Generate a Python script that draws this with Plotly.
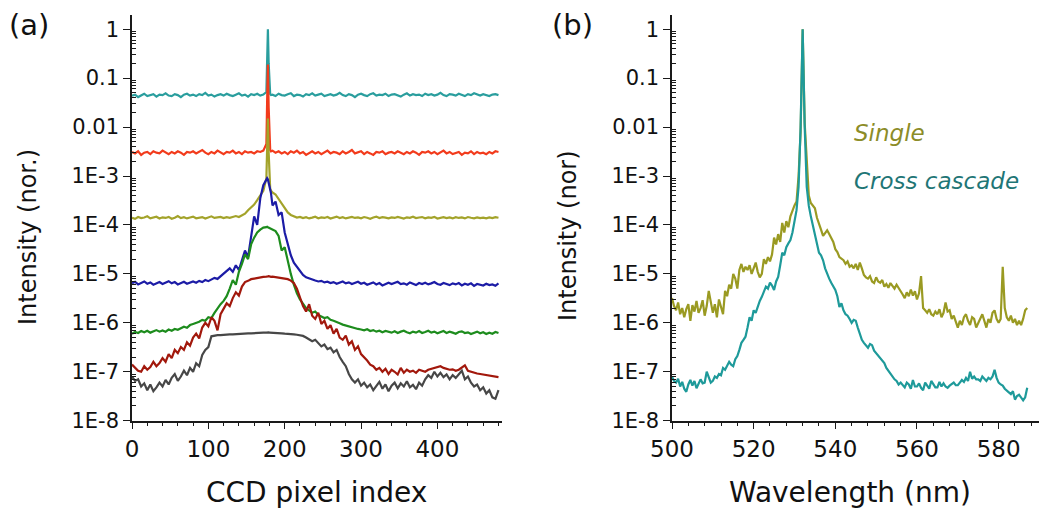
import plotly.graph_objects as go

# ---------------- Panel (a): CCD pixel index ----------------
x_pixel = [0, 4, 8, 12, 16, 20, 24, 28, 32, 36,
           40, 44, 48, 52, 56, 60, 64, 68, 72, 76,
           80, 84, 88, 92, 96, 100, 104, 108, 112, 116,
           120, 124, 128, 132, 136, 140, 144, 148, 152, 156,
           160, 164, 168, 172,
           176, 177, 178, 179, 180, 181, 182,
           184, 188, 192, 196, 200, 204, 208, 212, 216, 220,
           224, 228, 232, 236, 240, 244, 248, 252, 256, 260,
           264, 268, 272, 276, 280, 284, 288, 292, 296, 300,
           304, 308, 312, 316, 320, 324, 328, 332, 336, 340,
           344, 348, 352, 356, 360, 364, 368, 372, 376, 380,
           384, 388, 392, 396, 400, 404, 408, 412, 416, 420,
           424, 428, 432, 436, 440, 444, 448, 452, 456, 460,
           464, 468, 472, 476, 480]

a_teal = [.044, .046, .041, .045, .048, .043, .045, .047, .042, .046,
          .045, .049, .044, .043, .047, .045, .041, .046, .048, .044,
          .046, .043, .047, .045, .050, .044, .046, .042, .045, .047,
          .044, .048, .045, .043, .046, .049, .044, .046, .042, .047,
          .045, .048, .044, .046,
          .052, .30, 1.0, .20, .055, .047, .045,
          .046, .043, .048, .045, .044, .047, .049, .043, .046, .045,
          .042, .047, .045, .049, .044, .046, .048, .043, .045, .047,
          .044, .046, .050, .045, .043, .047, .045, .041, .046, .048,
          .045, .043, .047, .049, .044, .046, .045, .048, .043, .046,
          .047, .045, .042, .046, .049, .044, .047, .045, .046, .043,
          .048, .045, .047, .044, .046, .050, .045, .043, .047, .046,
          .044, .048, .046, .043, .047, .045, .049, .046, .044, .047,
          .045, .043, .046, .047, .045]

a_red = [.0031, .0029, .0032, .0027, .0030, .0031, .0028, .0032, .0030, .0029,
         .0033, .0030, .0028, .0031, .0029, .0032, .0030, .0027, .0031, .0030,
         .0032, .0029, .0031, .0034, .0030, .0028, .0031, .0029, .0033, .0030,
         .0028, .0031, .0030, .0033, .0029, .0031, .0028, .0032, .0030, .0031,
         .0029, .0032, .0031, .0033,
         .0045, .035, .19, .025, .005, .0034, .0032,
         .0033, .0030, .0032, .0029, .0031, .0028, .0032, .0030, .0033, .0029,
         .0031, .0027, .0030, .0032, .0029, .0031, .0028, .0030, .0033, .0029,
         .0031, .0030, .0028, .0032, .0029, .0031, .0034, .0029, .0030, .0032,
         .0028, .0031, .0029, .0027, .0031, .0030, .0032, .0028, .0030, .0031,
         .0029, .0032, .0030, .0028, .0031, .0029, .0032, .0030, .0027, .0031,
         .0030, .0032, .0029, .0031, .0028, .0030, .0033, .0029, .0031, .0028,
         .0030, .0031, .0027, .0030, .0029, .0032, .0028, .0031, .0029, .0030,
         .0028, .0031, .0029, .0032, .0031]

a_olive = [1.40e-4, 1.33e-4, 1.45e-4, 1.38e-4, 1.42e-4, 1.50e-4, 1.36e-4, 1.41e-4, 1.47e-4, 1.35e-4,
           1.43e-4, 1.39e-4, 1.46e-4, 1.34e-4, 1.40e-4, 1.52e-4, 1.38e-4, 1.44e-4, 1.36e-4, 1.42e-4,
           1.48e-4, 1.37e-4, 1.41e-4, 1.45e-4, 1.35e-4, 1.43e-4, 1.50e-4, 1.39e-4, 1.42e-4, 1.46e-4,
           1.38e-4, 1.44e-4, 1.40e-4, 1.47e-4, 1.52e-4, 1.45e-4, 1.58e-4, 1.70e-4, 2.0e-4, 2.3e-4,
           2.6e-4, 3.2e-4, 4.0e-4, 5.0e-4,
           9e-4, 4e-3, 1.5e-2, 3e-3, 8e-4, 5.5e-4, 5e-4,
           4.6e-4, 4.2e-4, 3.4e-4, 2.8e-4, 2.2e-4, 1.8e-4, 1.6e-4, 1.5e-4, 1.42e-4, 1.46e-4,
           1.38e-4, 1.44e-4, 1.36e-4, 1.41e-4, 1.47e-4, 1.37e-4, 1.43e-4, 1.39e-4, 1.45e-4, 1.35e-4,
           1.42e-4, 1.48e-4, 1.38e-4, 1.44e-4, 1.36e-4, 1.40e-4, 1.46e-4, 1.39e-4, 1.43e-4, 1.37e-4,
           1.45e-4, 1.40e-4, 1.34e-4, 1.42e-4, 1.48e-4, 1.38e-4, 1.44e-4, 1.41e-4, 1.36e-4, 1.43e-4,
           1.39e-4, 1.46e-4, 1.41e-4, 1.35e-4, 1.43e-4, 1.40e-4, 1.47e-4, 1.38e-4, 1.42e-4, 1.45e-4,
           1.37e-4, 1.43e-4, 1.40e-4, 1.46e-4, 1.35e-4, 1.41e-4, 1.44e-4, 1.38e-4, 1.42e-4, 1.36e-4,
           1.44e-4, 1.39e-4, 1.42e-4, 1.36e-4, 1.45e-4, 1.40e-4, 1.37e-4, 1.43e-4, 1.38e-4, 1.41e-4,
           1.36e-4, 1.42e-4, 1.38e-4, 1.44e-4, 1.40e-4]

a_blue = [6.4e-6, 6.9e-6, 6.1e-6, 6.6e-6, 7.0e-6, 6.3e-6, 6.7e-6, 6.0e-6, 6.5e-6, 6.8e-6,
          6.2e-6, 6.6e-6, 7.1e-6, 6.4e-6, 6.8e-6, 6.1e-6, 6.5e-6, 6.9e-6, 6.3e-6, 6.7e-6,
          7.0e-6, 6.6e-6, 7.2e-6, 6.8e-6, 7.5e-6, 7.1e-6, 7.8e-6, 8.3e-6, 7.9e-6, 9.0e-6,
          1.0e-5, 1.15e-5, 1.3e-5, 1.1e-5, 1.5e-5, 1.2e-5, 1.8e-5, 3.0e-5, 2.2e-5, 6.0e-5,
          1.5e-4, 1.0e-4, 3.5e-4, 6.5e-4,
          8.5e-4, 9.0e-4, 8.5e-4, 7.0e-4, 6.0e-4, 5.0e-4, 4.5e-4,
          2.5e-4, 3.0e-4, 1.6e-4, 1.8e-4, 7e-5, 4e-5, 2.4e-5, 1.7e-5, 1.4e-5, 1.1e-5,
          9.5e-6, 8.5e-6, 8.0e-6, 7.6e-6, 7.3e-6, 7.0e-6, 7.2e-6, 6.7e-6, 6.9e-6, 6.5e-6,
          6.8e-6, 6.3e-6, 6.6e-6, 7.0e-6, 6.4e-6, 6.7e-6, 6.2e-6, 6.5e-6, 6.9e-6, 6.3e-6,
          6.6e-6, 6.0e-6, 6.4e-6, 6.7e-6, 6.1e-6, 6.5e-6, 5.8e-6, 6.3e-6, 6.6e-6, 6.2e-6,
          6.5e-6, 6.9e-6, 6.2e-6, 6.4e-6, 6.0e-6, 6.7e-6, 6.3e-6, 5.9e-6, 6.5e-6, 6.2e-6,
          6.6e-6, 6.1e-6, 6.4e-6, 6.8e-6, 6.2e-6, 6.0e-6, 6.5e-6, 6.3e-6, 5.9e-6, 6.4e-6,
          6.1e-6, 6.5e-6, 5.8e-6, 6.3e-6, 6.0e-6, 6.4e-6, 5.7e-6, 6.2e-6, 6.0e-6, 5.8e-6,
          6.3e-6, 5.9e-6, 6.1e-6, 5.7e-6, 6.4e-6]

a_green = [6.0e-7, 6.5e-7, 6.2e-7, 6.8e-7, 6.4e-7, 6.9e-7, 6.3e-7, 6.7e-7, 7.1e-7, 6.6e-7,
           7.0e-7, 6.6e-7, 7.3e-7, 6.9e-7, 7.5e-7, 7.2e-7, 7.8e-7, 8.3e-7, 7.9e-7, 9.0e-7,
           9.5e-7, 1.0e-6, 1.05e-6, 1.15e-6, 1.1e-6, 1.3e-6, 1.25e-6, 1.6e-6, 2.0e-6, 2.4e-6,
           2.8e-6, 3.5e-6, 5.0e-6, 7.5e-6, 6.0e-6, 1.1e-5, 1.6e-5, 2.5e-5, 2.0e-5, 4.0e-5,
           5.5e-5, 7.0e-5, 8.0e-5, 8.8e-5,
           9.0e-5, 9.2e-5, 9.0e-5, 8.8e-5, 8.9e-5, 8.6e-5, 8.4e-5,
           8.0e-5, 7.5e-5, 6.0e-5, 3.0e-5, 3.5e-5, 1.8e-5, 1.0e-5, 6.0e-6, 4.0e-6, 3.0e-6,
           2.4e-6, 2.0e-6, 1.8e-6, 1.6e-6, 1.7e-6, 1.45e-6, 1.35e-6, 1.25e-6, 1.3e-6, 1.15e-6,
           1.1e-6, 1.05e-6, 9.8e-7, 9.2e-7, 8.8e-7, 8.4e-7, 8.0e-7, 7.8e-7, 7.5e-7, 7.3e-7,
           7.0e-7, 7.4e-7, 6.8e-7, 7.1e-7, 6.6e-7, 6.9e-7, 6.4e-7, 6.8e-7, 6.5e-7, 6.3e-7,
           6.7e-7, 6.2e-7, 6.6e-7, 6.9e-7, 6.4e-7, 6.1e-7, 6.6e-7, 6.3e-7, 6.8e-7, 6.2e-7,
           6.5e-7, 6.9e-7, 6.3e-7, 6.6e-7, 6.1e-7, 6.4e-7, 6.8e-7, 6.2e-7, 6.6e-7, 6.3e-7,
           6.0e-7, 6.5e-7, 6.7e-7, 6.2e-7, 6.4e-7, 5.9e-7, 6.3e-7, 6.6e-7, 6.1e-7, 6.4e-7,
           5.9e-7, 6.3e-7, 6.0e-7, 6.5e-7, 6.2e-7]

a_darkred = [1.4e-7, 1.2e-7, 1.05e-7, 1.0e-7, 1.3e-7, 1.1e-7, 1.25e-7, 1.6e-7, 1.3e-7, 1.5e-7,
             1.9e-7, 1.6e-7, 2.3e-7, 1.9e-7, 2.8e-7, 2.4e-7, 3.2e-7, 2.8e-7, 4.0e-7, 3.4e-7,
             5.0e-7, 6.0e-7, 4.8e-7, 8.0e-7, 1.0e-6, 8.5e-7, 1.3e-6, 1.1e-6, 7.0e-7, 1.5e-6,
             1.9e-6, 2.5e-6, 2.2e-6, 3.2e-6, 4.2e-6, 3.6e-6, 5.5e-6, 6.8e-6, 7.2e-6, 7.8e-6,
             8.0e-6, 8.3e-6, 8.5e-6, 8.7e-6,
             8.8e-6, 9.0e-6, 8.9e-6, 9.0e-6, 8.8e-6, 8.9e-6, 8.7e-6,
             8.8e-6, 8.6e-6, 8.5e-6, 8.2e-6, 8.0e-6, 7.8e-6, 7.3e-6, 6.5e-6, 5.0e-6, 3.2e-6,
             2.2e-6, 1.7e-6, 2.4e-6, 1.4e-6, 1.2e-6, 1.6e-6, 9.5e-7, 1.1e-6, 7.5e-7, 9.0e-7,
             6.0e-7, 7.5e-7, 5.0e-7, 4.5e-7, 5.5e-7, 3.6e-7, 4.2e-7, 2.8e-7, 3.3e-7, 2.3e-7,
             2.0e-7, 1.7e-7, 1.4e-7, 1.3e-7, 1.1e-7, 1.2e-7, 1.0e-7, 1.15e-7, 0.9e-7, 1.1e-7,
             1.0e-7, 0.88e-7, 1.2e-7, 0.95e-7, 1.1e-7, 1.0e-7, 1.05e-7, 0.95e-7, 1.1e-7, 1.05e-7,
             1.0e-7, 1.1e-7, 1.15e-7, 1.2e-7, 1.25e-7, 1.3e-7, 1.2e-7, 1.15e-7, 1.1e-7, 1.12e-7,
             1.05e-7, 1.1e-7, 1.2e-7, 1.35e-7, 1.05e-7, 1.0e-7, 0.95e-7, 0.92e-7, 0.9e-7, 0.88e-7,
             0.86e-7, 0.84e-7, 0.82e-7, 0.8e-7, 0.78e-7]

a_gray = [8.0e-8, 6.5e-8, 7.0e-8, 5.0e-8, 5.8e-8, 4.2e-8, 5.5e-8, 4.0e-8, 4.8e-8, 6.0e-8,
          5.0e-8, 6.8e-8, 5.5e-8, 7.5e-8, 9.0e-8, 6.5e-8, 8.0e-8, 1.05e-7, 8.5e-8, 1.2e-7,
          1.0e-7, 1.5e-7, 1.3e-7, 2.2e-7, 2.8e-7, 3.2e-7, 5.3e-7, 5.5e-7, 5.6e-7, 5.6e-7,
          5.7e-7, 5.7e-7, 5.8e-7, 5.8e-7, 5.9e-7, 5.9e-7, 6.0e-7, 6.0e-7, 6.1e-7, 6.1e-7,
          6.2e-7, 6.2e-7, 6.3e-7, 6.3e-7,
          6.3e-7, 6.4e-7, 6.4e-7, 6.4e-7, 6.3e-7, 6.3e-7, 6.3e-7,
          6.3e-7, 6.2e-7, 6.2e-7, 6.1e-7, 6.0e-7, 6.0e-7, 5.9e-7, 5.8e-7, 5.7e-7, 5.6e-7,
          5.4e-7, 5.0e-7, 4.6e-7, 4.2e-7, 4.5e-7, 3.8e-7, 3.3e-7, 3.6e-7, 2.9e-7, 3.1e-7,
          2.5e-7, 2.8e-7, 2.0e-7, 1.6e-7, 1.3e-7, 9.0e-8, 7.0e-8, 6.0e-8, 7.0e-8, 5.2e-8,
          6.0e-8, 4.8e-8, 5.5e-8, 4.2e-8, 5.0e-8, 6.2e-8, 4.5e-8, 5.5e-8, 4.0e-8, 5.2e-8,
          6.0e-8, 4.6e-8, 5.8e-8, 5.0e-8, 6.4e-8, 4.8e-8, 5.4e-8, 4.4e-8, 6.0e-8, 5.2e-8,
          7.0e-8, 8.5e-8, 7.5e-8, 1.0e-7, 8.0e-8, 9.5e-8, 7.8e-8, 8.8e-8, 7.0e-8, 8.5e-8,
          7.5e-8, 9.0e-8, 1.05e-7, 7.0e-8, 8.0e-8, 6.0e-8, 5.0e-8, 5.5e-8, 4.2e-8, 4.8e-8,
          3.6e-8, 4.2e-8, 3.0e-8, 2.8e-8, 4.2e-8]

# ---------------- Panel (b): wavelength ----------------
x_wavelength = [500, 500.5, 501, 501.5, 502, 502.5, 503, 503.5, 504, 504.5,
                505, 505.5, 506, 506.5, 507, 507.5, 508, 508.5, 509, 509.5,
                510, 510.5, 511, 511.5, 512, 512.5, 513, 513.5, 514, 514.5,
                515, 515.5, 516, 516.5, 517, 517.5, 518, 518.5, 519, 519.5,
                520, 520.5, 521, 521.5, 522, 522.5, 523, 523.5, 524, 524.5,
                525, 525.5, 526, 526.5, 527, 527.5, 528, 528.5, 529, 529.5,
                530, 530.5, 531, 531.5, 532, 532.5, 533, 533.5, 534, 534.5,
                535, 535.5, 536, 536.5, 537, 537.5, 538, 538.5, 539, 539.5,
                540, 540.5, 541, 541.5, 542, 542.5, 543, 543.5, 544, 544.5,
                545, 545.5, 546, 546.5, 547, 547.5, 548, 548.5, 549, 549.5,
                550, 550.5, 551, 551.5, 552, 552.5, 553, 553.5, 554, 554.5,
                555, 555.5, 556, 556.5, 557, 557.5, 558, 558.5, 559, 559.5,
                560, 560.5, 561, 561.5, 562, 562.5, 563, 563.5, 564, 564.5,
                565, 565.5, 566, 566.5, 567, 567.5, 568, 568.5, 569, 569.5,
                570, 570.5, 571, 571.5, 572, 572.5, 573, 573.5, 574, 574.5,
                575, 575.5, 576, 576.5, 577, 577.5, 578, 578.5, 579, 579.5,
                580, 580.5, 581, 581.5, 582, 582.5, 583, 583.5, 584, 584.5,
                585, 585.5, 586, 586.5, 587]

b_single = [3.2e-6, 2.2e-6, 1.8e-6, 2.6e-6, 1.5e-6, 2.0e-6, 1.3e-6, 1.9e-6, 2.4e-6, 1.1e-6,
            2.3e-6, 1.7e-6, 2.8e-6, 1.6e-6, 2.0e-6, 2.9e-6, 1.4e-6, 2.2e-6, 4.5e-6, 2.6e-6,
            1.6e-6, 2.4e-6, 1.3e-6, 3.0e-6, 2.0e-6, 1.5e-6, 4.5e-6, 3.5e-6, 6.0e-6, 5.0e-6,
            1.0e-5, 8.0e-6, 5.0e-6, 1.2e-5, 1.6e-5, 1.1e-5, 1.4e-5, 1.2e-5, 1.5e-5, 1.0e-5,
            1.3e-5, 1.7e-5, 1.1e-5, 8.5e-6, 1.0e-5, 2.0e-5, 1.6e-5, 2.2e-5, 1.8e-5, 2.5e-5,
            5.5e-5, 4.0e-5, 6.5e-5, 4.5e-5, 1.1e-4, 7.0e-5, 1.2e-4, 9.0e-5, 1.5e-4, 2.0e-4,
            2.5e-4, 3.0e-4, 1.0e-3, 8.0e-3, 1.0, 1.2e-2, 1.5e-3, 4.0e-4, 2.8e-4, 2.5e-4,
            2.2e-4, 1.4e-4, 1.0e-4, 8.0e-5, 6.0e-5, 7.0e-5, 7.8e-5, 6.5e-5, 5.5e-5, 4.5e-5,
            3.2e-5, 2.8e-5, 2.2e-5, 2.0e-5, 1.9e-5, 1.6e-5, 1.8e-5, 1.4e-5, 1.5e-5, 1.3e-5,
            1.6e-5, 1.2e-5, 1.7e-5, 1.3e-5, 9.5e-6, 8.5e-6, 8.0e-6, 9.0e-6, 7.0e-6, 6.5e-6,
            8.5e-6, 7.0e-6, 6.6e-6, 7.5e-6, 5.5e-6, 6.2e-6, 5.2e-6, 6.5e-6, 5.6e-6, 5.0e-6,
            6.0e-6, 5.2e-6, 4.6e-6, 3.8e-6, 3.2e-6, 4.2e-6, 3.5e-6, 4.8e-6, 3.6e-6, 4.4e-6,
            3.0e-6, 4.0e-6, 9.0e-6, 2.0e-6, 1.8e-6, 1.6e-6, 1.9e-6, 1.5e-6, 1.4e-6, 1.7e-6,
            1.5e-6, 1.9e-6, 1.3e-6, 1.6e-6, 2.6e-6, 1.7e-6, 1.8e-6, 1.2e-6, 1.4e-6, 1.0e-6,
            0.8e-6, 1.1e-6, 0.9e-6, 1.3e-6, 1.5e-6, 1.1e-6, 0.9e-6, 1.3e-6, 1.2e-6, 0.8e-6,
            1.0e-6, 1.3e-6, 1.5e-6, 1.1e-6, 0.8e-6, 1.2e-6, 1.0e-6, 1.6e-6, 1.8e-6, 1.2e-6,
            1.0e-6, 1.2e-6, 1.4e-5, 2.0e-6, 1.3e-6, 1.1e-6, 1.4e-6, 1.0e-6, 1.2e-6, 0.9e-6,
            1.1e-6, 0.9e-6, 1.2e-6, 1.8e-6, 2.0e-6]

b_cross = [7.9e-8, 6.5e-8, 6.0e-8, 7.2e-8, 5.0e-8, 6.2e-8, 4.5e-8, 3.9e-8, 5.5e-8, 6.8e-8,
           5.2e-8, 6.5e-8, 4.6e-8, 5.5e-8, 7.0e-8, 5.8e-8, 6.0e-8, 1.0e-7, 7.5e-8, 6.0e-8,
           6.5e-8, 8.0e-8, 7.5e-8, 9.0e-8, 8.5e-8, 1.2e-7, 1.1e-7, 1.3e-7, 1.6e-7, 1.4e-7,
           1.3e-7, 1.8e-7, 2.1e-7, 2.8e-7, 3.9e-7, 4.5e-7, 5.2e-7, 8.0e-7, 1.3e-6, 1.1e-6,
           1.8e-6, 1.6e-6, 2.2e-6, 2.8e-6, 3.4e-6, 4.5e-6, 5.5e-6, 5.0e-6, 6.6e-6, 5.8e-6,
           4.7e-6, 7.0e-6, 8.7e-6, 1.5e-5, 2.7e-5, 2.4e-5, 3.5e-5, 4.2e-5, 4.9e-5, 7.0e-5,
           1.1e-4, 2.0e-4, 6.0e-4, 1.0e-2, 1.0, 1.0e-2, 6.0e-4, 2.5e-4, 1.5e-4, 1.0e-4,
           6.9e-5, 4.0e-5, 2.7e-5, 2.4e-5, 1.9e-5, 1.3e-5, 1.0e-5, 8.0e-6, 6.6e-6, 5.5e-6,
           4.7e-6, 3.5e-6, 2.1e-6, 2.5e-6, 1.8e-6, 1.5e-6, 1.4e-6, 1.2e-6, 1.0e-6, 1.15e-6,
           1.1e-6, 8.0e-7, 6.0e-7, 4.5e-7, 3.9e-7, 3.4e-7, 3.1e-7, 3.7e-7, 3.5e-7, 2.7e-7,
           2.4e-7, 2.2e-7, 2.0e-7, 1.7e-7, 1.5e-7, 1.2e-7, 1.05e-7, 9.0e-8, 8.0e-8, 7.0e-8,
           6.5e-8, 5.5e-8, 6.0e-8, 5.2e-8, 4.8e-8, 6.0e-8, 5.5e-8, 4.5e-8, 6.8e-8, 5.0e-8,
           5.0e-8, 5.8e-8, 4.7e-8, 4.2e-8, 6.0e-8, 5.2e-8, 4.5e-8, 6.5e-8, 5.6e-8, 4.8e-8,
           4.8e-8, 6.2e-8, 5.0e-8, 5.8e-8, 5.0e-8, 4.7e-8, 5.2e-8, 5.5e-8, 6.0e-8, 5.3e-8,
           5.3e-8, 6.0e-8, 6.8e-8, 6.2e-8, 7.5e-8, 6.5e-8, 1.0e-7, 7.2e-8, 8.0e-8, 7.0e-8,
           7.0e-8, 6.5e-8, 8.0e-8, 7.2e-8, 6.5e-8, 7.5e-8, 7.0e-8, 8.0e-8, 1.1e-7, 7.5e-8,
           6.0e-8, 5.5e-8, 5.2e-8, 4.5e-8, 4.2e-8, 3.8e-8, 3.5e-8, 4.0e-8, 2.7e-8, 3.2e-8,
           3.4e-8, 3.0e-8, 2.6e-8, 3.0e-8, 4.7e-8]

y_tick_values = [1e-8, 1e-7, 1e-6, 1e-5, 1e-4, 1e-3, 0.01, 0.1, 1]
y_tick_labels = ["1E-8", "1E-7", "1E-6", "1E-5", "1E-4", "1E-3", "0.01", "0.1", "1"]
x_a_ticks = [0, 100, 200, 300, 400]
x_b_ticks = [500, 520, 540, 560, 580]

for s in (a_teal, a_red, a_olive, a_blue, a_green, a_darkred, a_gray):
    assert len(s) == len(x_pixel), len(s)
for s in (b_single, b_cross):
    assert len(s) == len(x_wavelength), len(s)

# ---- geometry (the page body has an 8 px margin, so the figure is offset) ----
OFF = 8
W, H = 1050 - OFF, 515 - OFF


def fx(px):
    return (px - OFF) / W


def fy(py):
    return 1 - (py - OFF) / H


FONT = "DejaVu Sans"
AX = "#1a1a1a"
LW = 2.2

fig = go.Figure()
series_a = [(a_teal, "#2a9e9e"), (a_red, "#f23b1c"), (a_olive, "#a3a32a"),
            (a_blue, "#1c1ca6"), (a_green, "#1d8c1d"), (a_darkred, "#a2180c"),
            (a_gray, "#474747")]
for vals, col in series_a:
    fig.add_trace(go.Scatter(x=x_pixel, y=vals, mode="lines", xaxis="x", yaxis="y",
                             line=dict(color=col, width=LW), hoverinfo="skip"))
fig.add_trace(go.Scatter(x=x_wavelength, y=b_single, mode="lines", xaxis="x2", yaxis="y2",
                         line=dict(color="#9a9a22", width=LW), hoverinfo="skip"))
fig.add_trace(go.Scatter(x=x_wavelength, y=b_cross, mode="lines", xaxis="x2", yaxis="y2",
                         line=dict(color="#1e9a9a", width=LW), hoverinfo="skip"))

Y_DOM = [fy(420.7), fy(15)]
XA_DOM = [fx(132), fx(132 + 485 * 0.7635)]
XB_DOM = [fx(672), fx(672 + 90 * 4.083)]

minor_log = [m * 10.0 ** e for e in range(-8, 1) for m in range(2, 10)]
minor_xa = [v for v in range(20, 485, 20) if v % 100]
minor_xb = [v for v in range(504, 591, 4) if (v - 500) % 20]


def xaxis(domain, rng, ticks, anchor):
    return dict(domain=domain, range=rng, anchor=anchor, automargin=False,
                tickmode="array", tickvals=ticks,
                ticks="outside", ticklen=7, tickwidth=1.3, tickcolor=AX,
                showline=True, linecolor=AX, linewidth=1.5, showgrid=False, zeroline=False,
                tickfont=dict(family=FONT, size=23, color="#111"))


def xminor(domain, rng, vals, over, anchor):
    return dict(domain=domain, range=rng, overlaying=over, anchor=anchor, automargin=False,
                tickmode="array", tickvals=vals, showticklabels=False,
                ticks="outside", ticklen=4, tickwidth=1.1, tickcolor=AX,
                showline=False, showgrid=False, zeroline=False)


def yaxis(anchor):
    return dict(domain=Y_DOM, type="log", range=[-8, 0.29], anchor=anchor,
                automargin=False,
                tickmode="array", tickvals=y_tick_values, ticktext=y_tick_labels,
                ticks="outside", ticklen=7, tickwidth=1.3, tickcolor=AX,
                showline=True, linecolor=AX, linewidth=1.5, showgrid=False, zeroline=False,
                tickfont=dict(family=FONT, size=21, color="#111"))


def yminor(over, anchor):
    return dict(domain=Y_DOM, type="log", range=[-8, 0.29], overlaying=over, anchor=anchor,
                side="left", automargin=False,
                tickmode="array", tickvals=minor_log, showticklabels=False,
                ticks="inside", ticklen=4, tickwidth=1, tickcolor=AX,
                showline=False, showgrid=False, zeroline=False)


fig.update_layout(
    template="none",
    width=W, height=H, margin=dict(l=0, r=0, t=0, b=0, pad=0),
    paper_bgcolor="white", plot_bgcolor="white", showlegend=False,
    xaxis=xaxis(XA_DOM, [0, 485], x_a_ticks, "y"),
    yaxis=yaxis("x"),
    xaxis2=xaxis(XB_DOM, [500, 590], x_b_ticks, "y2"),
    yaxis2=yaxis("x2"),
    xaxis3=xminor(XA_DOM, [0, 485], minor_xa, "x", "y"),
    xaxis4=xminor(XB_DOM, [500, 590], minor_xb, "x2", "y2"),
    yaxis3=yminor("y", "x"),
    yaxis4=yminor("y2", "x2"),
)

# empty traces so the overlay tick axes are registered as subplots
fig.add_trace(go.Scatter(x=[None], y=[None], xaxis="x3", yaxis="y3", hoverinfo="skip"))
fig.add_trace(go.Scatter(x=[None], y=[None], xaxis="x4", yaxis="y4", hoverinfo="skip"))

ann_font = dict(family=FONT, color="#111")
annots = [
    dict(text="(a)", x=fx(29), y=fy(25), font=dict(size=29, **ann_font)),
    dict(text="(b)", x=fx(572), y=fy(25), font=dict(size=29, **ann_font)),
    dict(text="Intensity (nor.)", x=fx(28), y=fy(237), textangle=-90,
         font=dict(size=24, **ann_font)),
    dict(text="Intensity (nor)", x=fx(568), y=fy(236), textangle=-90,
         font=dict(size=24, **ann_font)),
    dict(text="CCD pixel index", x=fx(316), y=fy(492), font=dict(size=28, **ann_font)),
    dict(text="Wavelength (nm)", x=fx(850), y=fy(492), font=dict(size=28, **ann_font)),
]
for a in annots:
    a.update(xref="paper", yref="paper", showarrow=False, xanchor="center", yanchor="middle")
    fig.add_annotation(**a)

fig.add_annotation(text="<i>Single</i>", x=fx(852), y=fy(133), xref="paper", yref="paper",
                   showarrow=False, xanchor="left", yanchor="middle",
                   font=dict(family=FONT, size=23, color="#8c8c28"))
fig.add_annotation(text="<i>Cross cascade</i>", x=fx(852), y=fy(181), xref="paper",
                   yref="paper", showarrow=False, xanchor="left", yanchor="middle",
                   font=dict(family=FONT, size=23, color="#1f7676"))

fig.write_html("out.html")
